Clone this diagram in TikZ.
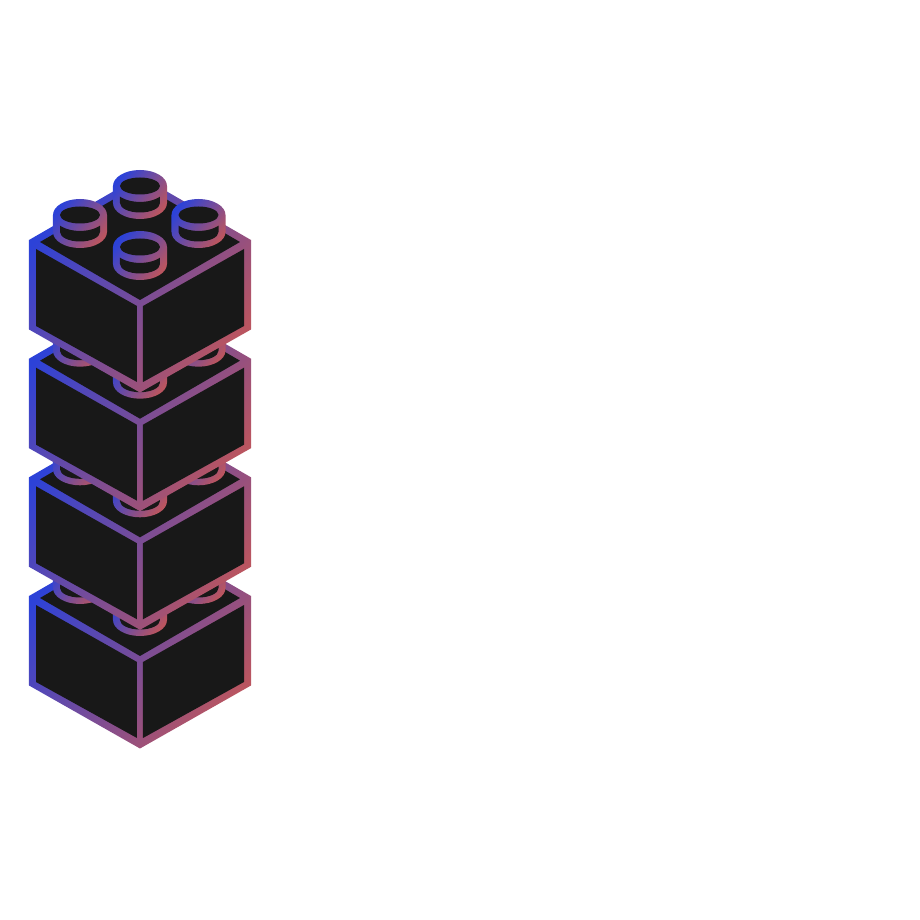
\documentclass[tikz,border=0pt]{standalone}
\definecolor{brickblue}{HTML}{2C42D8}
\definecolor{brickred}{HTML}{BA5560}
\definecolor{brickdark}{HTML}{181818}
\tikzset{
  edgeshade/.style={left color=brickblue, right color=brickred, shading angle=52},
  facefill/.style={fill=brickdark}
}
\newcommand{\studpart}[2]{
\begin{scope}[shift={(#1, #2)}]
\shade[edgeshade] (-0.27, 0) arc (180:0:0.27 and 0.16) -- (0.27, -0.17) arc (0:-180:0.27 and 0.16) -- cycle;
\fill[facefill] (0, 0) ellipse (0.20 and 0.085);
\fill[facefill] (-0.20, -0.107) -- (-0.20, -0.17) arc (180:360:0.20 and 0.095) -- (0.20, -0.107) arc (-42.2:-137.8:0.27 and 0.16) -- cycle;
\end{scope}
}
\newcommand{\brickpart}[1]{
\begin{scope}[yshift=#1 cm]
\shade[edgeshade] (0.29, 3.24) -- (1.40, 3.88) -- (2.51, 3.24) -- (2.51, 2.345) -- (1.40, 1.715) -- (0.29, 2.345) -- cycle;
\fill[facefill] (1.40, 2.64) -- (0.40, 3.22) -- (1.40, 3.80) -- (2.40, 3.22) -- cycle;
\fill[facefill] (0.36, 3.15) -- (0.36, 2.38) -- (1.37, 1.82) -- (1.37, 2.58) -- cycle;
\fill[facefill] (1.43, 2.58) -- (2.44, 3.15) -- (2.44, 2.38) -- (1.43, 1.82) -- cycle;
\studpart{1.40}{3.78}
\studpart{0.80}{3.49}
\studpart{1.985}{3.49}
\studpart{1.40}{3.17}
\end{scope}
}
\begin{document}
\begin{tikzpicture}
\useasboundingbox (0, 0) rectangle (9.2, 9.2);

% bottom brick first, each next one covers the studs below
\foreach \level in {0, 1.187, 2.373, 3.56} {
  \brickpart{\level}
}
\end{tikzpicture}
\end{document}
